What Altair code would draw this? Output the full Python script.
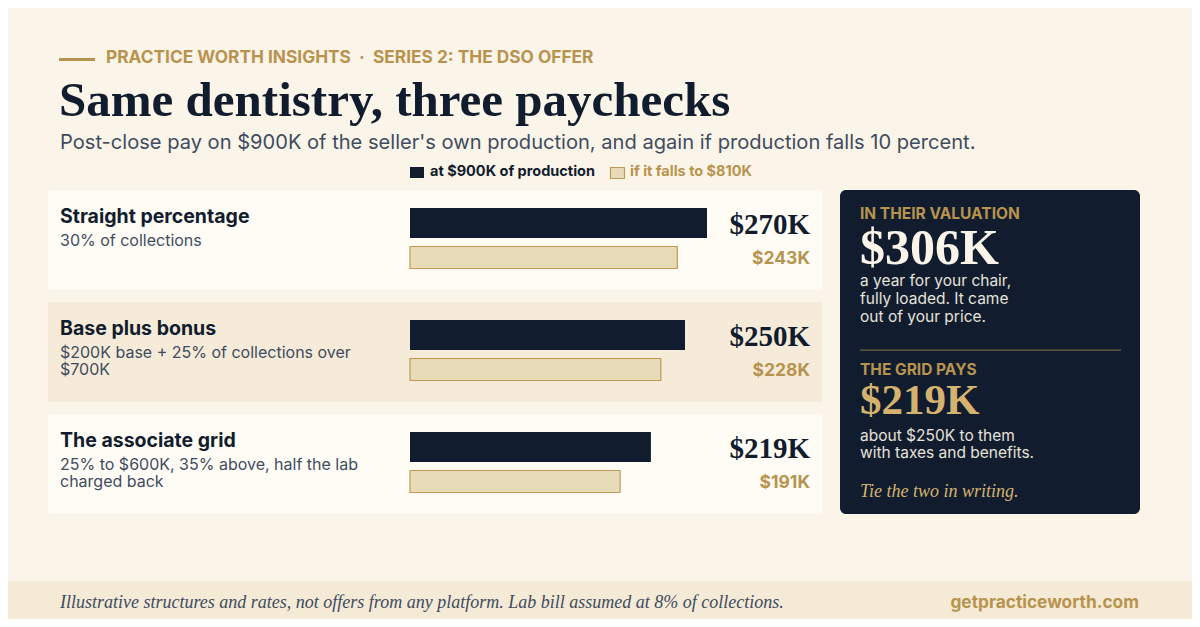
import altair as alt
import pandas as pd

# ---------------- data ----------------
categories = ["Straight percentage", "Base plus bonus", "The associate grid"]
descriptions = [
    "30% of collections",
    "$200K base + 25% of collections over\n$700K",
    "25% to $600K, 35% above, half the lab\ncharged back",
]
pay_at_900k = [270, 250, 219]
pay_at_810k = [243, 228, 191]
series_names = ["at $900K of production", "if it falls to $810K"]

kicker = "PRACTICE WORTH INSIGHTS \u00a0·\u00a0 SERIES 2: THE DSO OFFER"
title = "Same dentistry, three paychecks"
subtitle = ("Post-close pay on $900K of the seller's own production, "
            "and again if production falls 10 percent.")
footer_note = ("Illustrative structures and rates, not offers from any platform. "
               "Lab bill assumed at 8% of collections.")
footer_site = "getpracticeworth.com"

panel_heads = ["IN THEIR VALUATION", "THE GRID PAYS"]
panel_values = ["$306K", "$219K"]
panel_notes = [
    ["a year for your chair,", "fully loaded. It came", "out of your price."],
    ["about $250K to them", "with taxes and benefits."],
]
panel_close = "Tie the two in writing."

# ---------------- style ----------------
BG = "#FBF4E9"
FOOT = "#F4EAD6"
CARD_W = "#FFFCF6"
CARD_B = "#F5EBD8"
NAVY = "#111D2E"
GOLD = "#B8934E"
LIGHT = "#E8DBB8"
LIGHT_STROKE = "#C09A52"
PANEL_GOLD = "#D5B36F"
PANEL_TEXT = "#E6E2DA"
CREAM = "#FBF4E9"
SLATE = "#3E4C60"
DIVIDER = "#6F6043"
SANS = "Inter"
SERIF = "Liberation Serif"

W, H = 1184, 611
OFF = 8  # page margin


def X(v):
    return v - OFF


def Y(v):
    return v - OFF


rows = pd.DataFrame({
    "category": categories,
    "description": descriptions,
    "pay900": pay_at_900k,
    "pay810": pay_at_810k,
})

one = pd.DataFrame({"k": [0]})

yscale = alt.Scale(domain=categories, range=[Y(190), Y(514)],
                   paddingInner=12 / 112, paddingOuter=0)
xscale = alt.Scale(domain=[0, 300], range=[X(410), X(740)])
ycat = alt.Y("category:N", scale=yscale, axis=None)


def label(text, x, y, size, color, font=SANS, weight="normal", align="left",
          baseline="middle", style="normal", lh=None):
    kw = dict(text=text, align=align, baseline=baseline, font=font,
              fontSize=size, fontWeight=weight, color=color, fontStyle=style)
    if lh is not None:
        kw["lineHeight"] = lh
        kw["lineBreak"] = "\n"
    return alt.Chart(one).mark_text(**kw).encode(x=alt.value(X(x)), y=alt.value(Y(y)))


def box(x1, x2, y1, y2, color, radius=0, **extra):
    return alt.Chart(one).mark_rect(color=color, cornerRadius=radius, **extra).encode(
        x=alt.value(X(x1)), x2=alt.value(X(x2)), y=alt.value(Y(y1)), y2=alt.value(Y(y2)))


layers = []

# footer band
layers.append(box(0, 1300, 581, 700, FOOT))

# header
layers.append(box(59, 95, 58, 61, GOLD))
layers.append(label(kicker, 106, 58, 17.3, GOLD, weight="bold"))
layers.append(label(title, 59, 116, 49, NAVY, font=SERIF, weight="bold", baseline="alphabetic"))
layers.append(label(subtitle, 60, 143, 20.1, SLATE))

# legend
layers.append(box(410, 424, 167, 178, NAVY))
layers.append(label(series_names[0], 430, 172, 14.5, NAVY, weight="bold"))
layers.append(box(610.5, 624.5, 167.5, 178.5, LIGHT, stroke=LIGHT_STROKE, strokeWidth=1.2))
layers.append(label(series_names[1], 630, 172, 14.5, GOLD, weight="bold"))

# cards
cards = alt.Chart(rows).mark_rect().encode(
    y=ycat,
    x=alt.value(X(48)),
    x2=alt.value(X(822)),
    color=alt.condition(alt.datum.category == categories[1],
                        alt.value(CARD_B), alt.value(CARD_W)),
)
layers.append(cards)

# bars
dark = alt.Chart(rows).mark_bar(height=30, yOffset=-17, color=NAVY).encode(
    y=ycat, x=alt.X("pay900:Q", scale=xscale, axis=None))
light = alt.Chart(rows).mark_bar(height=22, yOffset=17.5, fill=LIGHT,
                                 stroke=LIGHT_STROKE, strokeWidth=1.2).encode(
    y=ycat, x=alt.X("pay810:Q", scale=xscale, axis=None))
layers += [dark, light]

# row labels
names = alt.Chart(rows).mark_text(align="left", baseline="middle", font=SANS,
                                  fontSize=19.5, fontWeight="bold", color=NAVY,
                                  dy=-23).encode(
    y=ycat, x=alt.value(X(60)), text="category:N")
descs = alt.Chart(rows).mark_text(align="left", baseline="line-top", font=SANS,
                                  fontSize=16, color=SLATE, lineBreak="\n",
                                  lineHeight=17, dy=-7).encode(
    y=ycat, x=alt.value(X(60)), text="description:N")
layers += [names, descs]

# value labels
v900 = alt.Chart(rows).transform_calculate(
    lab="'$' + datum.pay900 + 'K'").mark_text(
    align="right", baseline="alphabetic", font=SERIF, fontSize=29,
    fontWeight="bold", color=NAVY, dy=-6).encode(
    y=ycat, x=alt.value(X(810)), text="lab:N")
v810 = alt.Chart(rows).transform_calculate(
    lab="'$' + datum.pay810 + 'K'").mark_text(
    align="right", baseline="middle", font=SANS, fontSize=17.5,
    fontWeight="bold", color=GOLD, dy=19).encode(
    y=ycat, x=alt.value(X(810)), text="lab:N")
layers += [v900, v810]

# side panel
layers.append(box(840, 1140, 190, 514, NAVY, radius=6))
layers.append(label(panel_heads[0], 860, 214, 15.5, GOLD, weight="bold"))
layers.append(label(panel_values[0], 860, 264, 50, CREAM, font=SERIF, weight="bold",
                    baseline="alphabetic"))
layers.append(label("\n".join(panel_notes[0]), 860, 281, 15.5, PANEL_TEXT, lh=18))
layers.append(box(860, 1121, 349.5, 350.8, DIVIDER))
layers.append(label(panel_heads[1], 860, 370, 15.5, GOLD, weight="bold"))
layers.append(label(panel_values[1], 860, 414, 43, PANEL_GOLD, font=SERIF, weight="bold",
                    baseline="alphabetic"))
layers.append(label("\n".join(panel_notes[1]), 860, 436, 15.5, PANEL_TEXT, lh=17))
layers.append(label(panel_close, 860, 492, 18, PANEL_GOLD, font=SERIF, style="italic"))

# footer text
layers.append(label(footer_note, 60, 603, 18, SLATE, font=SERIF, style="italic"))
layers.append(label(footer_site, 1139, 603, 17.3, GOLD, weight="bold", align="right"))

chart = alt.layer(*layers).properties(
    width=W, height=H, padding=0,
    autosize=alt.AutoSizeParams(type="none"),
    background=BG,
).configure_view(strokeWidth=0)

chart.save("out.html", embed_options={"renderer": "svg", "actions": False})
